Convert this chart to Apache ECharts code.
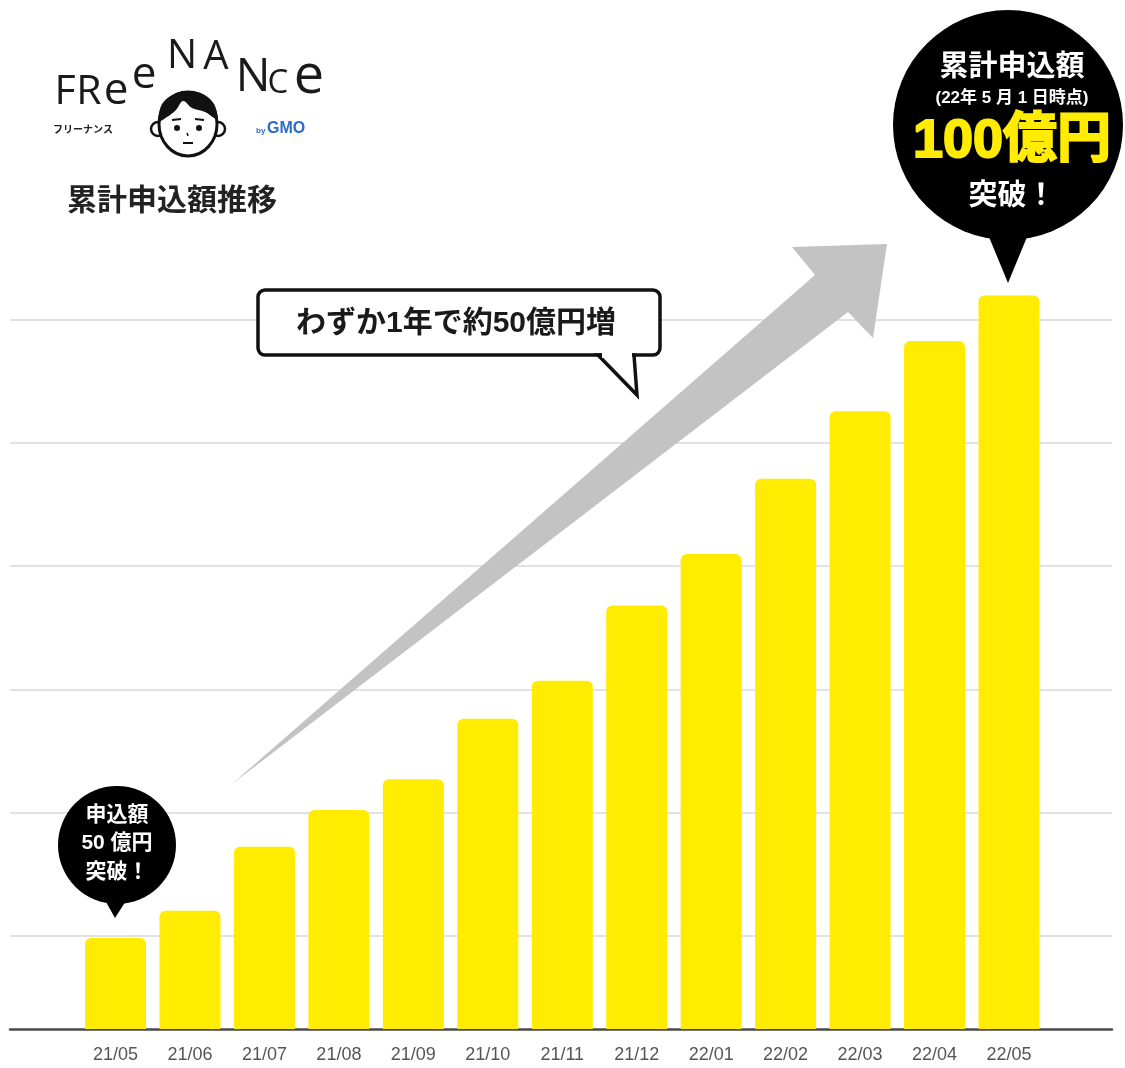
<!DOCTYPE html>
<html>
<head>
<meta charset="utf-8">
<script src="https://cdn.jsdelivr.net/npm/echarts@6/dist/echarts.min.js"></script>
<style>
html,body{margin:0;padding:0;background:#fff;}
#chart{width:1125px;height:1068px;}
</style>
</head>
<body>
<div id="chart"></div>
<script>
// ---- data ----
const months = ['21/05','21/06','21/07','21/08','21/09','21/10','21/11','21/12','22/01','22/02','22/03','22/04','22/05'];
const amounts = [49.8, 52.0, 57.2, 60.2, 62.7, 67.6, 70.7, 76.8, 81.0, 87.1, 92.6, 98.3, 102.0]; // 億円
const titleText = '累計申込額推移';
const calloutText = 'わずか1年で約50億円増';
const bigBubbleLines = ['累計申込額', '(22年 5 月 1 日時点)', '100億円', '突破！'];
const smallBubbleLines = ['申込額', '50 億円', '突破！'];
const logoLetters = ['F','R','e','e','N','A','N','C','e'];

const JP = '"Liberation Sans", "Noto Sans CJK JP", sans-serif';
const yMin = 42.4, yMax = 110;

// logo letter placement (x center, baseline y, size)
const letterPos = [
  [65,113,41],[89,113,41],[116,113,44],[144,97,44],[182,77,40],[216,78,40],[253,101,46],[278,100,33],[309,105,54]
];

const graphics = [];
// logo letters
logoLetters.forEach((ch, i) => {
  const p = letterPos[i];
  graphics.push({type:'text', z:100, style:{text:ch, x:p[0], y:p[1], textAlign:'center', textVerticalAlign:'bottom',
    font:'400 ' + p[2] + 'px "Open Sans", "Noto Sans", sans-serif', fill:'#1a1a1a'}});
});
graphics.push({type:'text', z:100, style:{text:'フリーナンス', x:53, y:129, textVerticalAlign:'middle',
  font:'bold 10px "Noto Sans CJK JP", sans-serif', fill:'#222'}});
graphics.push({type:'text', z:100, style:{text:'by', x:256, y:131, textVerticalAlign:'middle',
  font:'bold 8px "Liberation Sans", sans-serif', fill:'#2a6cc7'}});
graphics.push({type:'text', z:100, style:{text:'GMO', x:267, y:129, textVerticalAlign:'middle',
  font:'900 16px "Liberation Sans", sans-serif', fill:'#2a6cc7'}});
// face
graphics.push({type:'circle', z:100, shape:{cx:158, cy:129, r:7}, style:{fill:'#fff', stroke:'#111', lineWidth:2.5}});
graphics.push({type:'circle', z:100, shape:{cx:218, cy:129, r:7}, style:{fill:'#fff', stroke:'#111', lineWidth:2.5}});
graphics.push({type:'ellipse', z:101, shape:{cx:188, cy:124, rx:29, ry:32}, style:{fill:'#fff', stroke:'#111', lineWidth:3}});
graphics.push({type:'polygon', z:102, shape:{smooth:0.35, points:[[159,121],[162,104],[174,94],[188,91],[203,94],[214,104],[217,119],[205,112],[192,108],[183,101],[176,110],[167,117]]}, style:{fill:'#111'}});
graphics.push({type:'circle', z:102, shape:{cx:177, cy:128, r:3}, style:{fill:'#111'}});
graphics.push({type:'circle', z:102, shape:{cx:199, cy:128, r:3}, style:{fill:'#111'}});
graphics.push({type:'line', z:102, shape:{x1:172, y1:120, x2:181, y2:119}, style:{stroke:'#111', lineWidth:2}});
graphics.push({type:'line', z:102, shape:{x1:195, y1:119, x2:204, y2:120}, style:{stroke:'#111', lineWidth:2}});
graphics.push({type:'line', z:102, shape:{x1:187, y1:133, x2:188, y2:136}, style:{stroke:'#111', lineWidth:1.5}});
graphics.push({type:'line', z:102, shape:{x1:183, y1:143, x2:193, y2:143}, style:{stroke:'#111', lineWidth:2}});
// title
graphics.push({type:'text', z:100, style:{text:titleText, x:67, y:202, textVerticalAlign:'middle',
  font:'bold 30px ' + JP, fill:'#222'}});
// arrow
graphics.push({type:'polygon', z:90, shape:{points:[[232,784],[815,275],[792,247],[887,244],[873,338],[848,312]]}, style:{fill:'#c3c3c3'}});
// speech box
graphics.push({type:'rect', z:100, shape:{x:258, y:290, width:402, height:65, r:7}, style:{fill:'#fff', stroke:'#111', lineWidth:3.5}});
graphics.push({type:'polygon', z:101, shape:{points:[[598,355],[637,395],[634,355]]}, style:{fill:'#fff', stroke:'#111', lineWidth:3.5, lineJoin:'miter'}});
graphics.push({type:'rect', z:102, shape:{x:602, y:351, width:30, height:7}, style:{fill:'#fff'}});
graphics.push({type:'text', z:103, style:{text:calloutText, x:456, y:324, textAlign:'center', textVerticalAlign:'middle',
  font:'bold 30px ' + JP, fill:'#1a1a1a'}});
// big bubble
graphics.push({type:'circle', z:100, shape:{cx:1008, cy:125, r:115}, style:{fill:'#000'}});
graphics.push({type:'polygon', z:100, shape:{points:[[982,220],[1034,220],[1008,283]]}, style:{fill:'#000'}});
const bigY = [68, 98, 142, 197];
const bigFont = ['bold 29px ' + JP, 'bold 17px ' + JP, 'bold 54px ' + JP, 'bold 29px ' + JP];
bigBubbleLines.forEach((t, i) => {
  const yellow = i === 2;
  const st = {text:t, x:1012, y:bigY[i], textAlign:'center', textVerticalAlign:'middle', font:bigFont[i], fill: yellow ? '#ffec00' : '#fff'};
  if (yellow) { st.stroke = '#ffec00'; st.lineWidth = 2; }
  graphics.push({type:'text', z:101, style:st});
});
// small bubble
graphics.push({type:'circle', z:100, shape:{cx:117, cy:845, r:59}, style:{fill:'#000'}});
graphics.push({type:'polygon', z:100, shape:{points:[[101,893],[131,893],[115,918]]}, style:{fill:'#000'}});
const smallY = [815, 843, 872];
smallBubbleLines.forEach((t, i) => {
  graphics.push({type:'text', z:101, style:{text:t, x:117, y:smallY[i], textAlign:'center', textVerticalAlign:'middle',
    font:'bold 21px ' + JP, fill:'#fff'}});
});

const chart = echarts.init(document.getElementById('chart'), null, {renderer:'canvas'});
chart.setOption({
  backgroundColor:'#fff',
  animation:false,
  grid:[
    {left:10, right:13, top:197, bottom:39},
    {left:78.3, right:78.8, top:197, bottom:39}
  ],
  xAxis:[
    {gridIndex:0, type:'value', min:0, max:1,
     axisLine:{show:true, onZero:false, lineStyle:{color:'#4a4a4a', width:2.5}},
     axisTick:{show:false}, axisLabel:{show:false}, splitLine:{show:false}},
    {gridIndex:1, type:'category', data:months,
     axisLine:{show:false}, axisTick:{show:false},
     axisLabel:{color:'#555', fontSize:18, margin:17, fontFamily:'"Liberation Sans", Arial, sans-serif'}}
  ],
  yAxis:[
    {gridIndex:0, type:'value', min:yMin, max:yMax, minInterval:10, maxInterval:10,
     axisLine:{show:false}, axisTick:{show:false}, axisLabel:{show:false},
     splitLine:{show:true, showMinLine:false, showMaxLine:false, lineStyle:{color:'#e2e2e2', width:2}}},
    {gridIndex:1, type:'value', min:yMin, max:yMax, show:false, splitLine:{show:false}}
  ],
  series:[{
    type:'bar', xAxisIndex:1, yAxisIndex:1, data:amounts, barWidth:61, silent:true,
    itemStyle:{color:'#ffec00', borderRadius:[6,6,0,0]}
  }],
  graphic:graphics
});
</script>
</body>
</html>
